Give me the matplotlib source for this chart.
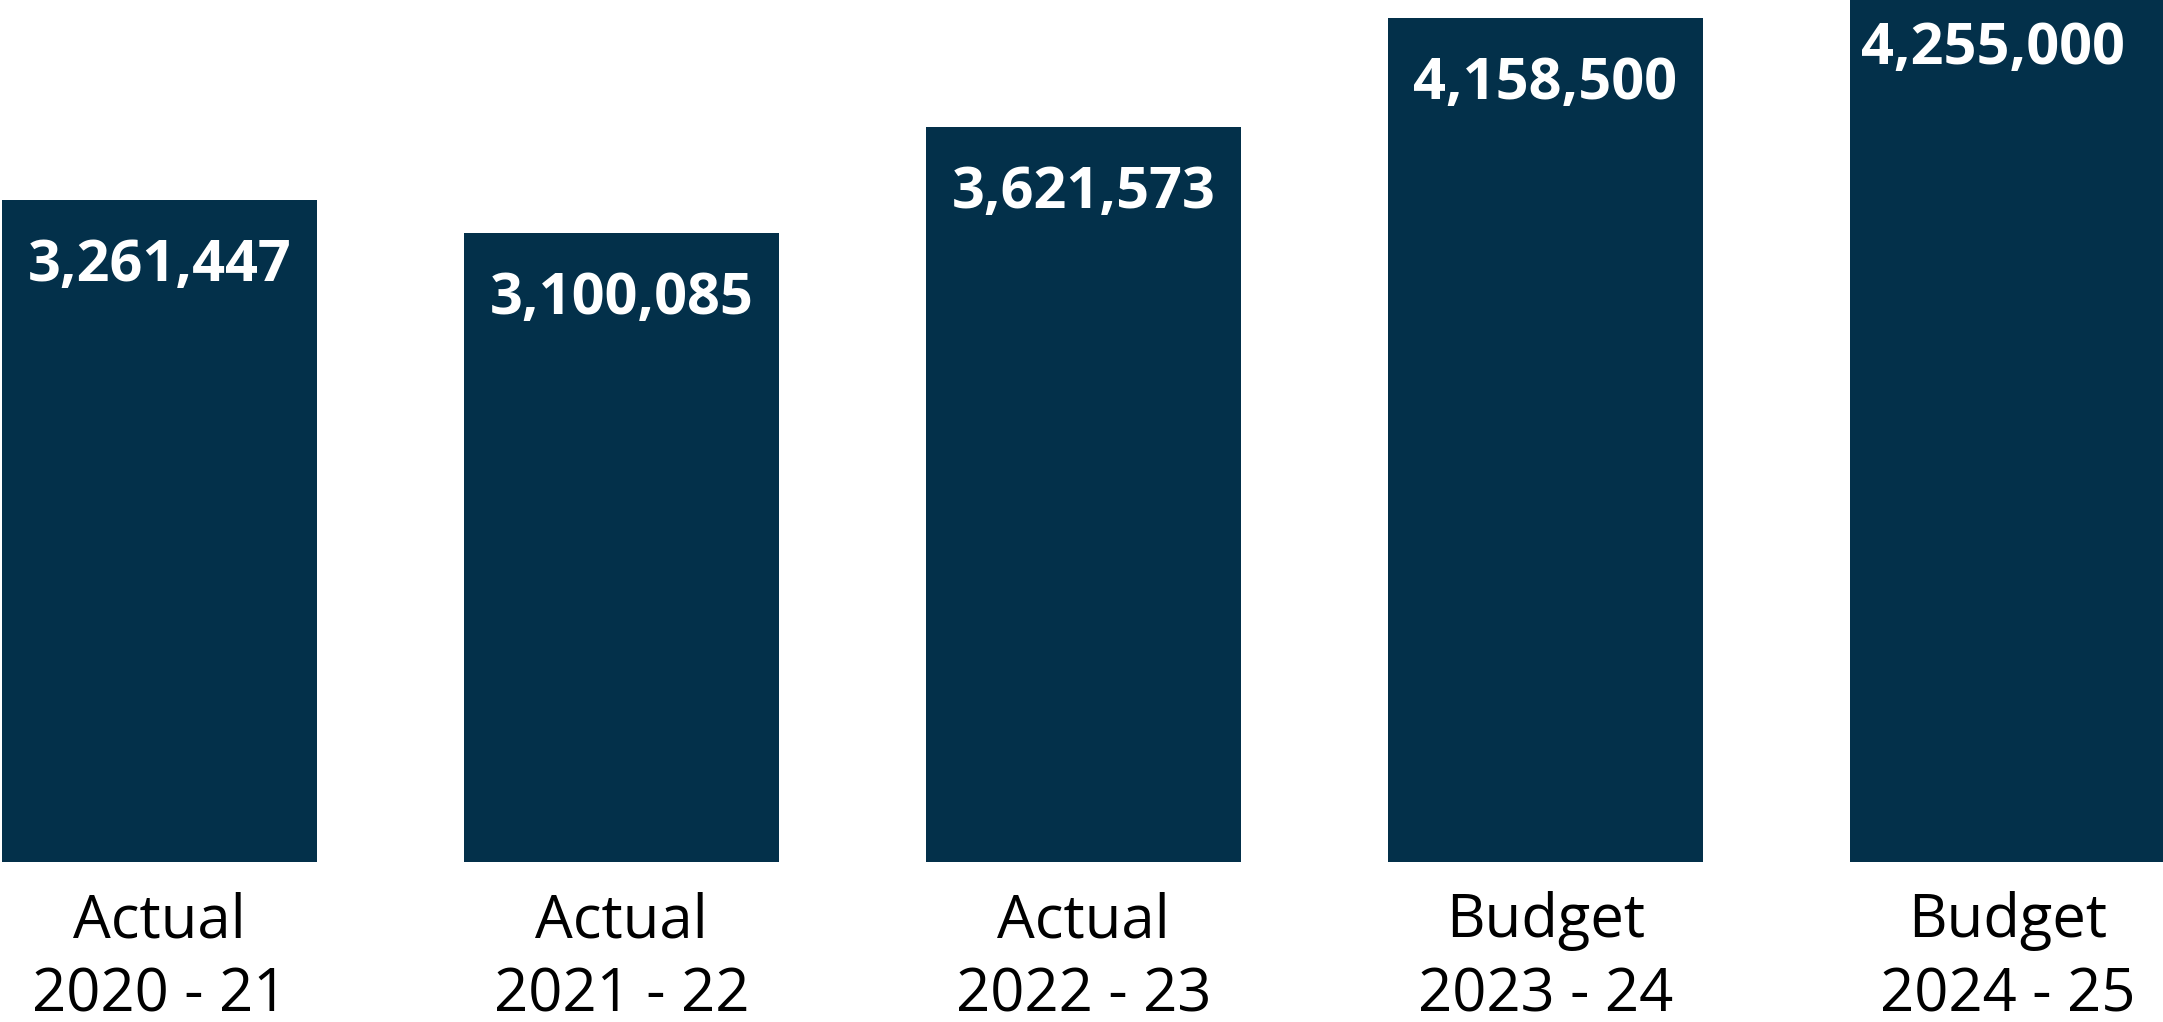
import matplotlib.pyplot as plt

# Funding by year: three actuals, two budgets
kinds = ["Actual", "Actual", "Actual", "Budget", "Budget"]
years = ["2020 - 21", "2021 - 22", "2022 - 23", "2023 - 24", "2024 - 25"]
amounts = [3261447, 3100085, 3621573, 4158500, 4255000]

NAVY = "#03304A"
FONT = "Open Sans"

fig = plt.figure(figsize=(21.63, 10.22), dpi=100)
ax = fig.add_axes([0, 0.1566, 1, 0.8434])

xs = range(len(amounts))
ax.bar(xs, amounts, width=0.682, color=NAVY)

ymax = 4246900
ax.set_xlim(-0.3452, 4.3366)
ax.set_ylim(0, ymax)

# value labels sit just inside the top of each bar
for x, v in zip(xs, amounts):
    top = min(v, ymax)
    off = (0, -37) if v <= ymax else (-15, -20)
    ax.annotate(f"{v:,}", xy=(x, top), xytext=off, textcoords="offset pixels",
                ha="center", va="top", color="white", fontsize=41.5,
                fontweight="bold", family=FONT)

ax.set_xticks(list(xs))
ax.set_xticklabels([f"{k}\n{y}" for k, y in zip(kinds, years)],
                   fontsize=43, family=FONT, linespacing=1.32)
ax.tick_params(axis="x", length=0, pad=21)
ax.set_yticks([])
for s in ax.spines.values():
    s.set_visible(False)

fig.savefig("out.png", dpi=100)
